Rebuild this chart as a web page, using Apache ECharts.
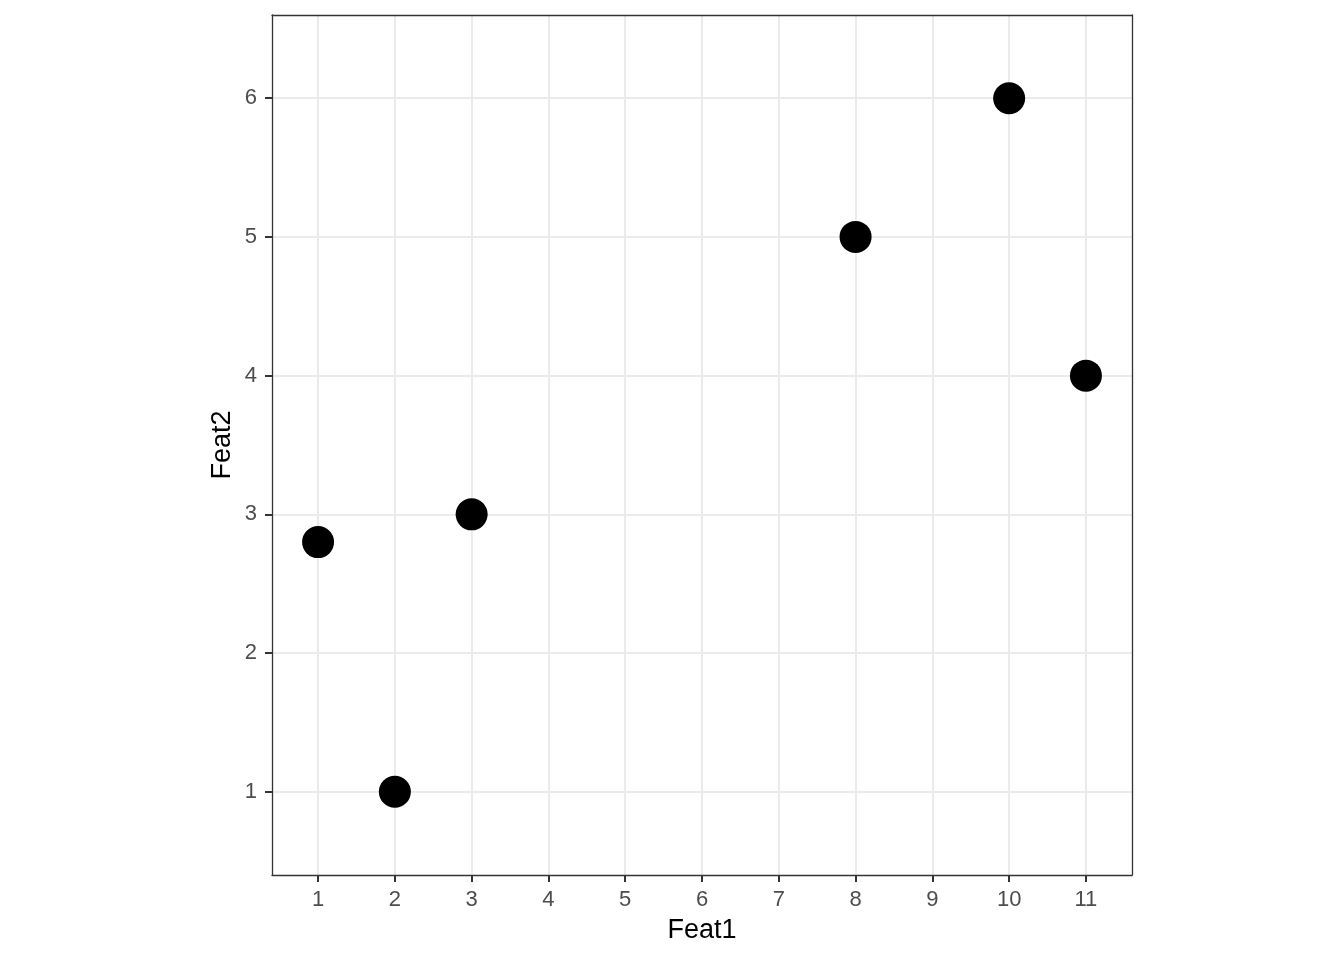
<!DOCTYPE html>
<html lang="en">
<head>
    <meta charset="UTF-8">
    <title>Feat1 vs Feat2</title>
    <style>
        html, body {
            margin: 0;
            padding: 0;
            background: #ffffff;
        }
        #main {
            width: 1344px;
            height: 960px;
        }
    </style>
    <script type="text/javascript" src="https://cdn.jsdelivr.net/npm/echarts@6/dist/echarts.min.js"></script>
</head>
<body>
<div id="main"></div>
<script type="text/javascript">
    // points
    var feat1 = [1, 2, 3, 8, 10, 11];
    var feat2 = [2.8, 1, 3, 5, 6, 4];
    // tick labels
    var xTicks = [1, 2, 3, 4, 5, 6, 7, 8, 9, 10, 11];
    var yTicks = [1, 2, 3, 4, 5, 6];

    var points = [];
    for (var i = 0; i < feat1.length; i++) {
        points.push([feat1[i], feat2[i]]);
    }

    var chart = echarts.init(document.getElementById('main'));
    var font = 'Liberation Sans, Arial, sans-serif';
    var border = {show: true, lineStyle: {color: '#333333', width: 1.3}};
    var option = {
        animation: false,
        backgroundColor: '#ffffff',
        grid: {
            left: 272,
            right: 212,
            top: 15,
            bottom: 85
        },
        xAxis: [{
            type: 'value',
            min: 0.4,
            max: 11.6,
            minInterval: 1,
            maxInterval: 1,
            name: 'Feat1',
            nameLocation: 'middle',
            nameGap: 42,
            nameMoveOverlap: false,
            nameTextStyle: {color: '#000000', fontSize: 27, fontFamily: font},
            axisLine: border,
            axisTick: {
                show: true,
                length: 7,
                customValues: xTicks,
                lineStyle: {color: '#333333', width: 2}
            },
            axisLabel: {
                margin: 14,
                color: '#4d4d4d',
                fontSize: 22,
                fontFamily: font,
                customValues: xTicks
            },
            splitLine: {
                show: true,
                lineStyle: {color: '#ebebeb', width: 2}
            }
        }, {
            type: 'value',
            position: 'top',
            min: 0.4,
            max: 11.6,
            axisLine: border,
            axisTick: {show: false},
            axisLabel: {show: false},
            splitLine: {show: false}
        }],
        yAxis: [{
            type: 'value',
            min: 0.4,
            max: 6.6,
            minInterval: 1,
            maxInterval: 1,
            name: 'Feat2',
            nameLocation: 'middle',
            nameGap: 36,
            nameMoveOverlap: false,
            nameTextStyle: {color: '#000000', fontSize: 27, fontFamily: font},
            axisLine: border,
            axisTick: {
                show: true,
                length: 7,
                customValues: yTicks,
                lineStyle: {color: '#333333', width: 2}
            },
            axisLabel: {
                margin: 15,
                color: '#4d4d4d',
                fontSize: 22,
                fontFamily: font,
                customValues: yTicks
            },
            splitLine: {
                show: true,
                lineStyle: {color: '#ebebeb', width: 2}
            }
        }, {
            type: 'value',
            position: 'right',
            min: 0.4,
            max: 6.6,
            axisLine: border,
            axisTick: {show: false},
            axisLabel: {show: false},
            splitLine: {show: false}
        }],
        series: [{
            type: 'scatter',
            data: points,
            symbol: 'circle',
            symbolSize: 32,
            itemStyle: {color: '#000000', opacity: 1},
            z: 5
        }]
    };
    chart.setOption(option);
</script>
</body>
</html>
